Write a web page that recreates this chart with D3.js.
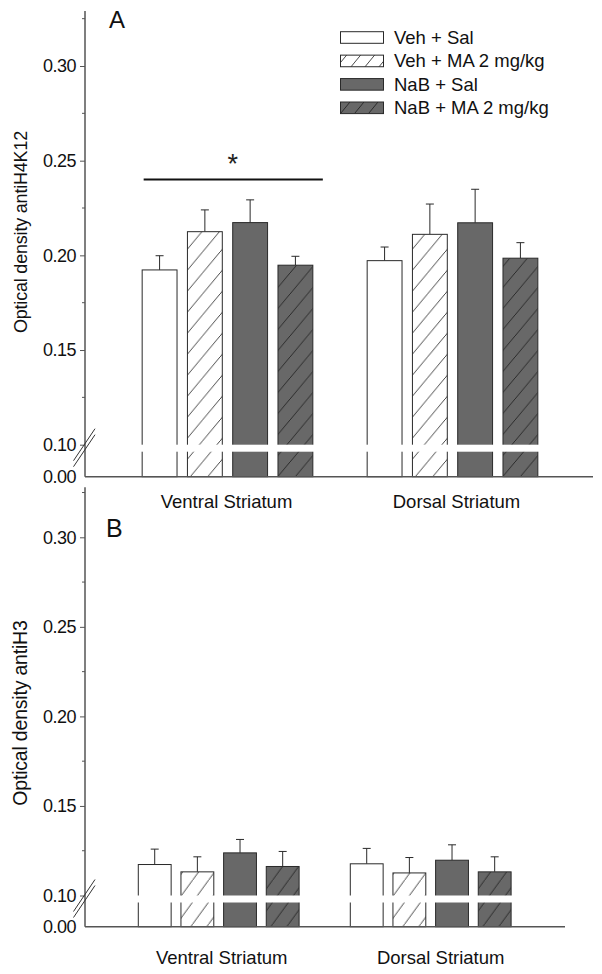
<!DOCTYPE html>
<html><head><meta charset="utf-8">
<script src="https://cdn.jsdelivr.net/npm/d3@7"></script>
<style>
html,body{margin:0;padding:0;background:#fff;}
svg{display:block;font-family:"Liberation Sans",Arial,Helvetica,sans-serif;}
</style></head>
<body>
<svg id="chart" width="602" height="974"></svg>
<script>
// ---------- data ----------
const categories = ["Ventral Striatum", "Dorsal Striatum"];
const groups = ["Veh + Sal", "Veh + MA 2 mg/kg", "NaB + Sal", "NaB + MA 2 mg/kg"];
const h4k12Mean = [[0.1923, 0.2125, 0.2173, 0.1948], [0.1972, 0.2111, 0.2172, 0.1985]];
const h4k12Err  = [[0.0075, 0.0115, 0.0120, 0.0047], [0.0072, 0.0160, 0.0177, 0.0082]];
const h3Mean = [[0.1173, 0.1132, 0.1238, 0.1162], [0.1177, 0.1126, 0.1197, 0.1132]];
const h3Err  = [[0.0086, 0.0084, 0.0075, 0.0084], [0.0086, 0.0086, 0.0086, 0.0084]];
const majorTicks = [0.00, 0.10, 0.15, 0.20, 0.25, 0.30];
const minorTicks = [0.125, 0.175, 0.225, 0.275, 0.325];
const significance = {category: "Ventral Striatum", value: 0.24, label: "*"};

// ---------- styles ----------
const fills = ["#ffffff", "url(#hatchW)", "#686868", "url(#hatchD)"];
const legendFills = ["#ffffff", "url(#lhatchW)", "#686868", "url(#lhatchD)"];
const axisColor = "#555";
const barStroke = "#2a2a2a";

const svg = d3.select("#chart");
const defs = svg.append("defs");
function hatch(id, bg, w, h) {
  const p = defs.append("pattern").attr("id", id).attr("patternUnits", "userSpaceOnUse")
    .attr("width", w).attr("height", h);
  p.append("rect").attr("width", w).attr("height", h).attr("fill", bg);
  p.append("line").attr("x1", -w).attr("y1", 2 * h).attr("x2", 2 * w).attr("y2", -h)
    .attr("stroke", "#1a1a1a").attr("stroke-width", 0.8);
}
hatch("hatchW", "#fff", 17.5, 21);
hatch("hatchD", "#686868", 17.5, 21);
hatch("lhatchW", "#fff", 14, 17);
hatch("lhatchD", "#686868", 14, 17);
hatch("hatchWB", "#fff", 16, 22);
hatch("hatchDB", "#686868", 16, 22);

const panels = [
  {letter: "A", means: h4k12Mean, errs: h4k12Err, yRange: [476.7, 444.7, 66], yTop: 0.329,
   xRange: [115, 565], xEnd: 593, ylabel: "Optical density antiH4K12", ylabelY: 232, ylabelSize: 18,
   letterPos: [109, 27.5], letterSize: 24, xlabY: 508, xlabDx: [-1, 4], barFills: fills, sig: true},
  {letter: "B", means: h3Mean, errs: h3Err, yRange: [926.7, 895.5, 537.3], yTop: 0.328,
   xRange: [112.7, 536.7], xEnd: 565, ylabel: "Optical density antiH3", ylabelY: 713, ylabelSize: 19.5,
   letterPos: [106, 537], letterSize: 25, xlabY: 964, xlabDx: [3, 10],
   barFills: ["#ffffff", "url(#hatchWB)", "#686868", "url(#hatchDB)"], sig: false}
];

const axisX = 85;
const fmt = d3.format(".2f");

panels.forEach(P => {
  const g = svg.append("g");
  const y = d3.scaleLinear().domain([0, 0.10, 0.30]).range(P.yRange);
  const x0 = d3.scaleBand().domain(categories).range(P.xRange).paddingInner(0).paddingOuter(0);
  const x1 = d3.scaleBand().domain(groups).range([0, x0.bandwidth()]).paddingInner(0.23).paddingOuter(0.6);

  // bars
  categories.forEach((c, ci) => {
    const cg = g.append("g").attr("transform", `translate(${x0(c)},0)`);
    groups.forEach((gr, gi) => {
      const v = P.means[ci][gi], e = P.errs[ci][gi];
      const bx = x1(gr), bw = x1.bandwidth();
      const cx = bx + bw / 2;
      cg.append("line").attr("x1", cx).attr("x2", cx).attr("y1", y(v)).attr("y2", y(v + e))
        .attr("stroke", barStroke).attr("stroke-width", 1);
      cg.append("line").attr("x1", cx - 4).attr("x2", cx + 4).attr("y1", y(v + e)).attr("y2", y(v + e))
        .attr("stroke", barStroke).attr("stroke-width", 1);
      cg.append("rect").attr("x", bx).attr("y", y(v)).attr("width", bw).attr("height", y(0) - y(v))
        .attr("fill", P.barFills[gi]).attr("stroke", barStroke).attr("stroke-width", 1);
    });
  });

  // axis break band
  const bTop = y(0.10);
  g.append("rect").attr("x", axisX + 1).attr("y", bTop).attr("width", P.xEnd - axisX).attr("height", 7)
    .attr("fill", "#fff");

  // y axis
  g.append("line").attr("x1", axisX).attr("x2", axisX).attr("y1", y(0)).attr("y2", y(P.yTop))
    .attr("stroke", axisColor).attr("stroke-width", 1.5);
  const ax = g.append("g").attr("transform", `translate(${axisX},0)`)
    .call(d3.axisLeft(y).tickValues(majorTicks).tickFormat(fmt).tickSize(5).tickPadding(4));
  ax.select(".domain").remove();
  ax.selectAll(".tick line").attr("stroke", axisColor);
  ax.selectAll(".tick text").attr("font-size", 18).attr("fill", "#111")
    .attr("font-family", '"Liberation Sans",Arial,sans-serif').attr("letter-spacing", -0.5);
  ax.selectAll(".tick").filter(d => d === 0).select("line").remove();
  g.selectAll(".minor").data(minorTicks).join("line").attr("class", "minor")
    .attr("x1", axisX - 3).attr("x2", axisX).attr("y1", d => y(d)).attr("y2", d => y(d))
    .attr("stroke", axisColor);

  // break slashes
  const bc = bTop + 3.5;
  [[-2.5], [3.5]].forEach(([dy]) => {
    g.append("line").attr("x1", axisX - 11.5).attr("y1", bc + dy + 15)
      .attr("x2", axisX + 10).attr("y2", bc + dy - 17)
      .attr("stroke", "#333").attr("stroke-width", 1);
  });

  // x axis
  g.append("line").attr("x1", axisX).attr("x2", P.xEnd).attr("y1", y(0)).attr("y2", y(0))
    .attr("stroke", axisColor).attr("stroke-width", 1.5);

  // category labels
  categories.forEach((c, ci) => {
    g.append("text").attr("x", x0(c) + x0.bandwidth() / 2 + P.xlabDx[ci]).attr("y", P.xlabY)
      .attr("text-anchor", "middle").attr("font-size", 18.5).attr("fill", "#111").text(c);
  });

  // y label
  g.append("text").attr("transform", `translate(27,${P.ylabelY}) rotate(-90)`)
    .attr("text-anchor", "middle").attr("font-size", P.ylabelSize).attr("fill", "#111")
    .attr("letter-spacing", -0.2).text(P.ylabel);

  // panel letter
  g.append("text").attr("x", P.letterPos[0]).attr("y", P.letterPos[1]).attr("font-size", P.letterSize)
    .attr("fill", "#111").text(P.letter);

  // significance
  if (P.sig) {
    const sc = significance.category;
    const xs = x0(sc) + x1(groups[0]) + 1.5;
    const xe = x0(sc) + x1(groups[3]) + x1.bandwidth() + 10;
    g.append("line").attr("x1", xs).attr("x2", xe).attr("y1", y(significance.value)).attr("y2", y(significance.value))
      .attr("stroke", "#111").attr("stroke-width", 2);
    g.append("text").attr("x", (xs + xe) / 2 - 0.5).attr("y", y(significance.value) - 7)
      .attr("text-anchor", "middle").attr("font-size", 27).attr("fill", "#222").text(significance.label);
  }
});

// legend
const leg = svg.append("g");
const legY = d3.scalePoint().domain(groups).range([37.5, 107.8]);
groups.forEach((gr, i) => {
  leg.append("rect").attr("x", 340.5).attr("y", legY(gr) - 5.8).attr("width", 43).attr("height", 11.6)
    .attr("fill", legendFills[i]).attr("stroke", barStroke).attr("stroke-width", 1);
  leg.append("text").attr("x", 394).attr("y", legY(gr) + 6.5).attr("font-size", 18.5).attr("fill", "#111").text(gr);
});
</script>
</body></html>
